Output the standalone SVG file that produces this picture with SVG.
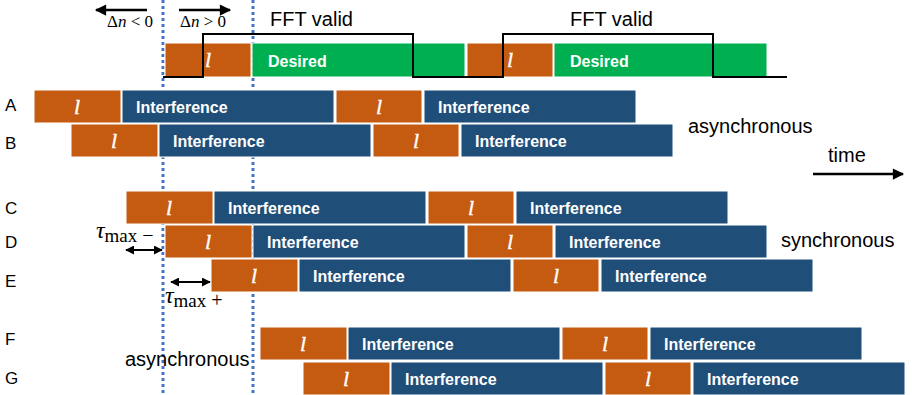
<svg xmlns="http://www.w3.org/2000/svg" width="914" height="395" viewBox="0 0 914 395">
  <defs>
    <style>
      .pre { fill: #C55A11; }
      .itf { fill: #1F4E79; }
      .des { fill: #00B050; }
      .seg { stroke: #ffffff; stroke-width: 1; }
      .ltr { font-family: "Liberation Serif", serif; font-style: italic; font-size: 22px; fill: #ffffff; text-anchor: middle; stroke: #ffffff; stroke-width: 0.4; }
      .lbl { font-family: "Liberation Sans", Arial, sans-serif; font-weight: bold; font-size: 16px; fill: #ffffff; }
      .txt { font-family: "Liberation Sans", Arial, sans-serif; font-size: 20px; fill: #000000; }
      .row { font-family: "Liberation Sans", Arial, sans-serif; font-size: 17px; fill: #000000; }
      .math { font-family: "Liberation Serif", serif; fill: #000000; }
      .guide { stroke: #4472C4; stroke-width: 3; stroke-dasharray: 3 3; fill: none; }
      .arr { stroke: #000000; stroke-width: 2.5; fill: none; }
      .arr2 { stroke: #000000; stroke-width: 2; fill: none; }
    </style>
    <marker id="ah" viewBox="0 0 10 10" refX="9" refY="5" markerWidth="5" markerHeight="4.5" orient="auto-start-reverse" markerUnits="strokeWidth">
      <path d="M0,0 L10,5 L0,10 z" fill="#000"/>
    </marker>
    <marker id="ahs" viewBox="0 0 10 10" refX="9" refY="5" markerWidth="4.5" markerHeight="4.5" orient="auto-start-reverse" markerUnits="strokeWidth">
      <path d="M0,0 L10,5 L0,10 z" fill="#000"/>
    </marker>
  </defs>

  <!-- timing guides -->
  <g id="guides">
    <line class="guide" x1="163" y1="0" x2="163" y2="395"/>
    <line class="guide" x1="253" y1="0" x2="253" y2="395"/>
  </g>

  <!-- desired signal -->
  <g id="desired">
    <rect class="pre seg" x="165" y="43" width="86" height="34"/>
    <rect class="des seg" x="252" y="43" width="213" height="34"/>
    <rect class="pre seg" x="467" y="43" width="86" height="34"/>
    <rect class="des seg" x="554" y="43" width="213" height="34"/>
    <text class="ltr" x="208" y="67">l</text>
    <text class="ltr" x="510" y="67">l</text>
    <text class="lbl" x="268" y="67">Desired</text>
    <text class="lbl" x="570" y="67">Desired</text>
  </g>

  <!-- FFT window -->
  <g id="fft-window">
    <polyline fill="none" stroke="#000" stroke-width="2" points="163,77 203,77 203,34 413,34 413,77 503,77 503,34 713,34 713,77 787,77"/>
    <text class="txt" x="270" y="26" font-size="21">FFT valid</text>
    <text class="txt" x="570" y="26" font-size="21">FFT valid</text>
  </g>

  <!-- interferers -->
  <g id="row-A">
    <text class="row" x="5" y="111">A</text>
    <rect class="pre seg" x="34" y="90" width="87" height="33"/>
    <rect class="itf seg" x="122" y="90" width="212" height="33"/>
    <rect class="pre seg" x="336" y="90" width="86" height="33"/>
    <rect class="itf seg" x="424" y="90" width="212" height="33"/>
    <text class="ltr" x="77" y="114">l</text>
    <text class="ltr" x="379" y="114">l</text>
    <text class="lbl" x="136" y="113">Interference</text>
    <text class="lbl" x="438" y="113">Interference</text>
  </g>
  <g id="row-B">
    <text class="row" x="5" y="149">B</text>
    <rect class="pre seg" x="71" y="124" width="87" height="33"/>
    <rect class="itf seg" x="159" y="124" width="212" height="33"/>
    <rect class="pre seg" x="373" y="124" width="86" height="33"/>
    <rect class="itf seg" x="461" y="124" width="212" height="33"/>
    <text class="ltr" x="114" y="148">l</text>
    <text class="ltr" x="416" y="148">l</text>
    <text class="lbl" x="173" y="147">Interference</text>
    <text class="lbl" x="475" y="147">Interference</text>
  </g>
  <g id="row-C">
    <text class="row" x="5" y="214">C</text>
    <rect class="pre seg" x="126" y="191" width="87" height="33"/>
    <rect class="itf seg" x="214" y="191" width="212" height="33"/>
    <rect class="pre seg" x="428" y="191" width="86" height="33"/>
    <rect class="itf seg" x="516" y="191" width="212" height="33"/>
    <text class="ltr" x="169" y="215">l</text>
    <text class="ltr" x="471" y="215">l</text>
    <text class="lbl" x="228" y="214">Interference</text>
    <text class="lbl" x="530" y="214">Interference</text>
  </g>
  <g id="row-D">
    <text class="row" x="5" y="248">D</text>
    <rect class="pre seg" x="165" y="225" width="87" height="33"/>
    <rect class="itf seg" x="253" y="225" width="212" height="33"/>
    <rect class="pre seg" x="467" y="225" width="86" height="33"/>
    <rect class="itf seg" x="555" y="225" width="212" height="33"/>
    <text class="ltr" x="208" y="249">l</text>
    <text class="ltr" x="510" y="249">l</text>
    <text class="lbl" x="267" y="248">Interference</text>
    <text class="lbl" x="569" y="248">Interference</text>
  </g>
  <g id="row-E">
    <text class="row" x="5" y="287">E</text>
    <rect class="pre seg" x="211" y="259" width="87" height="33"/>
    <rect class="itf seg" x="299" y="259" width="212" height="33"/>
    <rect class="pre seg" x="513" y="259" width="86" height="33"/>
    <rect class="itf seg" x="601" y="259" width="212" height="33"/>
    <text class="ltr" x="254" y="283">l</text>
    <text class="ltr" x="556" y="283">l</text>
    <text class="lbl" x="313" y="282">Interference</text>
    <text class="lbl" x="615" y="282">Interference</text>
  </g>
  <g id="row-F">
    <text class="row" x="5" y="345">F</text>
    <rect class="pre seg" x="260" y="327" width="87" height="33"/>
    <rect class="itf seg" x="348" y="327" width="212" height="33"/>
    <rect class="pre seg" x="562" y="327" width="86" height="33"/>
    <rect class="itf seg" x="650" y="327" width="212" height="33"/>
    <text class="ltr" x="303" y="351">l</text>
    <text class="ltr" x="605" y="351">l</text>
    <text class="lbl" x="362" y="350">Interference</text>
    <text class="lbl" x="664" y="350">Interference</text>
  </g>
  <g id="row-G">
    <text class="row" x="5" y="384">G</text>
    <rect class="pre seg" x="303" y="362" width="87" height="33"/>
    <rect class="itf seg" x="391" y="362" width="212" height="33"/>
    <rect class="pre seg" x="605" y="362" width="86" height="33"/>
    <rect class="itf seg" x="693" y="362" width="212" height="33"/>
    <text class="ltr" x="346" y="386">l</text>
    <text class="ltr" x="648" y="386">l</text>
    <text class="lbl" x="405" y="385">Interference</text>
    <text class="lbl" x="707" y="385">Interference</text>
  </g>

  <!-- group labels -->
  <g id="labels">
    <text class="txt" x="688" y="133">asynchronous</text>
    <text class="txt" x="781" y="247">synchronous</text>
    <text class="txt" x="125" y="366">asynchronous</text>
    <text class="txt" x="828" y="162" font-size="23">time</text>
  </g>

  <!-- connectors -->
  <g id="connectors">
    <line class="arr" x1="813" y1="174" x2="903" y2="174" marker-end="url(#ah)"/>
    <line class="arr" x1="147" y1="10" x2="96" y2="10" marker-end="url(#ah)"/>
    <line class="arr" x1="179" y1="10" x2="230" y2="10" marker-end="url(#ah)"/>
    <line class="arr2" x1="126" y1="250" x2="162" y2="250" marker-start="url(#ahs)" marker-end="url(#ahs)"/>
    <line class="arr2" x1="171" y1="282" x2="210" y2="282" marker-start="url(#ahs)" marker-end="url(#ahs)"/>
  </g>

  <!-- offset annotations -->
  <g id="math">
    <text class="math" x="107" y="27" font-size="17">Δ<tspan font-style="italic">n</tspan> &lt; 0</text>
    <text class="math" x="180" y="27" font-size="17">Δ<tspan font-style="italic">n</tspan> &gt; 0</text>
    <text class="math" x="96" y="238" font-size="24"><tspan font-style="italic">τ</tspan><tspan font-size="19" dy="4">max</tspan><tspan font-size="20"> −</tspan></text>
    <text class="math" x="165" y="303" font-size="24"><tspan font-style="italic">τ</tspan><tspan font-size="19" dy="4">max</tspan><tspan font-size="20"> +</tspan></text>
  </g>
</svg>
